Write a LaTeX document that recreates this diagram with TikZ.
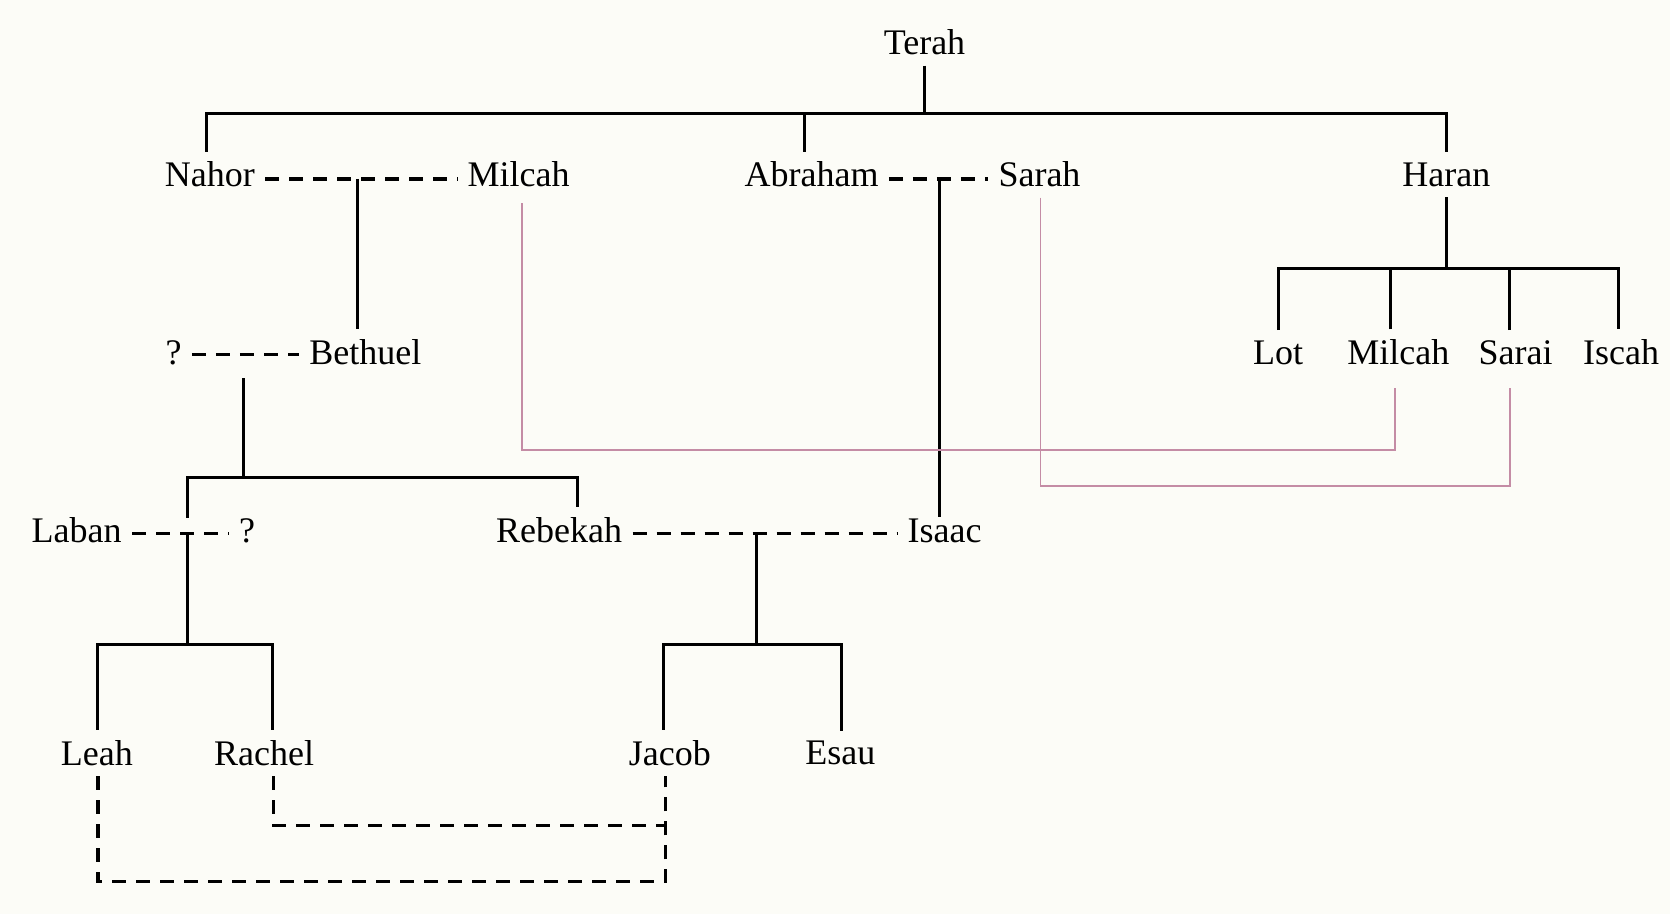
\documentclass[tikz,border=0pt]{standalone}
\usepackage{fontspec}
\setmainfont{Liberation Serif}
\usetikzlibrary{calc}
\definecolor{pinkline}{RGB}{196,140,165}
\definecolor{paper}{RGB}{252,252,247}
\begin{document}
\begin{tikzpicture}[x=0.5325pt,y=-0.5325pt,
  person/.style={font=\fontsize{18}{20}\selectfont, inner xsep=5pt, inner ysep=5pt, anchor=center},
  tree/.style={line width=1.5pt, black},
  marriage/.style={line width=1.6pt, black, dash pattern=on 7pt off 5pt},
  link/.style={line width=0.9pt, pinkline}]
\fill[paper] (0,0) rectangle (1568,858);
\useasboundingbox (0,0) rectangle (1568,858);

% generation 1
\node[person] (Terah) at (868,40) {Terah};
% generation 2
\node[person] (Nahor) at (197,164) {Nahor};
\node[person] (MilcahA) at (487,164) {Milcah};
\node[person] (Abraham) at (762,164) {Abraham};
\node[person] (Sarah) at (976,164) {Sarah};
\node[person] (Haran) at (1358,164) {Haran};
% Haran's children
\node[person] (Lot) at (1200,331) {Lot};
\node[person] (MilcahB) at (1313,331) {Milcah};
\node[person] (Sarai) at (1423,331) {Sarai};
\node[person] (Iscah) at (1522,331) {Iscah};
% generation 3
\node[person] (QA) at (163,331) {?};
\node[person] (Bethuel) at (343,331) {Bethuel};
% generation 4
\node[person] (Laban) at (72,498) {Laban};
\node[person] (QB) at (232,498) {?};
\node[person] (Rebekah) at (525,498) {Rebekah};
\node[person] (Isaac) at (887,498) {Isaac};
% generation 5
\node[person] (Leah) at (91,707) {Leah};
\node[person] (Rachel) at (248,707) {Rachel};
\node[person] (Jacob) at (629,707) {Jacob};
\node[person] (Esau) at (789,707) {Esau};

% junction coordinates
\coordinate (barT) at (868,107);
\coordinate (mNM) at (336,168);
\coordinate (mAS) at (882,168);
\coordinate (qbTop) at (229,355);
\coordinate (barB) at (229,448);
\coordinate (lbEnd) at (176,486);
\coordinate (mLQ) at (176,501);
\coordinate (mRI) at (710,501);
\coordinate (barL) at (176,605);
\coordinate (barR) at (710,605);
\coordinate (barH) at (1358,252);
\coordinate (jRa) at (625,775);
\coordinate (jLe) at (625,828);

% drop points above children
\coordinate (dNahor) at ($(Nahor.north)+(-3,0)$);
\coordinate (dAbraham) at ($(Abraham.north)+(-7,0)$);
\coordinate (dRebekah) at ($(Rebekah.north)+(17,0)$);
\coordinate (dLeah) at ($(Leah.north)+(1,0)$);
\coordinate (dRachel) at ($(Rachel.north)+(8,0)$);
\coordinate (dJacob) at ($(Jacob.north)+(-6,0)$);
\coordinate (dEsau) at ($(Esau.north)+(1,0)$);
\coordinate (dMilcahB) at ($(MilcahB.north)+(-7,0)$);
\coordinate (dSarai) at ($(Sarai.north)+(-6,0)$);
\coordinate (dIscah) at ($(Iscah.north)+(-2,0)$);
\coordinate (dIsaac) at ($(Isaac.north)+(0,8)$);

% Terah's children
\draw[tree] (Terah.south) -- (barT);
\draw[tree] (dNahor) -- (dNahor |- barT) -- (Haran.north |- barT) -- (Haran.north);
\draw[tree] (dAbraham) -- (dAbraham |- barT);

% marriages
\draw[marriage] ($(Nahor.east)+(0,4)$) -- ($(MilcahA.west)+(0,4)$);
\draw[marriage] ($(Abraham.east)+(0,4)$) -- ($(Sarah.west)+(0,4)$);
\draw[marriage] ($(QA.east)+(0,2)$) -- ($(Bethuel.west)+(0,2)$);
\draw[marriage] ($(Laban.east)+(0,3)$) -- ($(QB.west)+(0,3)$);
\draw[marriage] ($(Rebekah.east)+(0,3)$) -- ($(Isaac.west)+(0,3)$);

% descent lines
\draw[tree] (mNM) -- (mNM |- Bethuel.north);
\draw[tree] (mAS) -- (mAS |- dIsaac);
\draw[tree] (qbTop) -- (barB);
\draw[tree] (lbEnd) -- (lbEnd |- barB) -- (dRebekah |- barB) -- (dRebekah);
\draw[tree] (mLQ) -- (barL);
\draw[tree] (dLeah) -- (dLeah |- barL) -- (dRachel |- barL) -- (dRachel);
\draw[tree] (mRI) -- (barR);
\draw[tree] (dJacob) -- (dJacob |- barR) -- (dEsau |- barR) -- (dEsau);

% Haran's children
\draw[tree] (Haran.south) -- (barH);
\draw[tree] (Lot.north) -- (Lot.north |- barH) -- (dIscah |- barH) -- (dIscah);
\draw[tree] (dMilcahB) -- (dMilcahB |- barH);
\draw[tree] (dSarai) -- (dSarai |- barH);

% identity links (pink)
\draw[link] ($(MilcahA.south)+(3,5)$) |- ($(MilcahB.south)+(-3,70)$) -- ($(MilcahB.south)+(-3,12)$);
\draw[link] ($(Sarah.south)+(1,0)$) |- ($(Sarai.south)+(-5,104)$) -- ($(Sarai.south)+(-5,12)$);

% Jacob's marriages
\draw[marriage] ($(Rachel.south)+(9,0)$) |- (jRa);
\draw[marriage] ($(Leah.south)+(1,0)$) |- (jLe) -- (jLe |- Jacob.south);
\end{tikzpicture}
\end{document}
